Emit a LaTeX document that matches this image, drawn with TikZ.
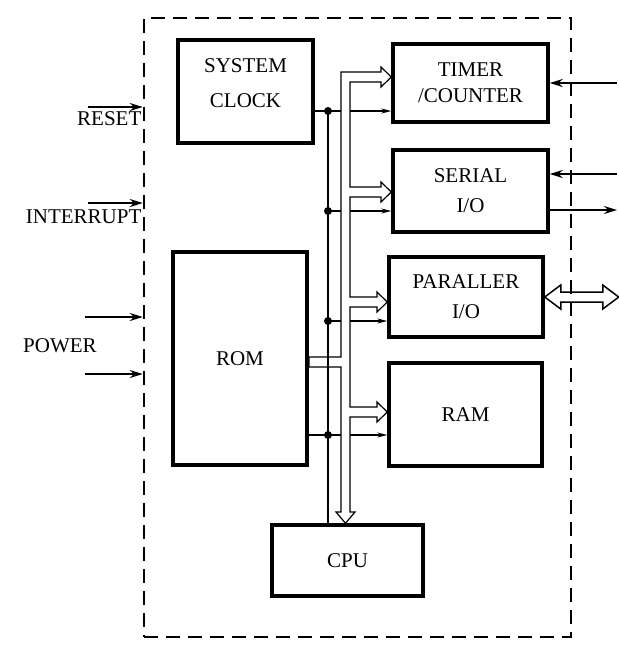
\documentclass[tikz,border=0pt]{standalone}
\usepackage{fontspec}
\setmainfont{Liberation Serif}
\usetikzlibrary{arrows.meta}
\begin{document}
\begin{tikzpicture}[x=1pt, y=-1pt, line width=1.2pt,
    blk/.style={draw, line width=3.5pt, inner sep=0pt, align=center, font=\fontsize{21}{30}\selectfont},
    sig/.style={line width=1.1pt, -{Stealth[length=10pt,width=5pt]}},
    ext/.style={line width=2pt, -{Stealth[length=13pt,width=8pt]}},
    lbl/.style={font=\fontsize{21}{24}\selectfont, inner sep=0pt}]

    \useasboundingbox (0,0) rectangle (619,646);

    % chip outline
    \node[draw, line width=2.5pt, dash pattern=on 14pt off 8pt,
          minimum width=427pt, minimum height=619pt] (mcu) at (357.5,327.5) {};

    % blocks
    \node[blk, minimum width=135pt, minimum height=103pt,
          label={[lbl, align=center, font=\fontsize{21}{35}\selectfont, yshift=8pt]center:SYSTEM\\CLOCK}] (clk) at (245.5,91.5) {};
    \node[blk, minimum width=155pt, minimum height=78pt, font=\fontsize{21}{26}\selectfont] (tmr) at (470.5,83) {TIMER\\/COUNTER};
    \node[blk, minimum width=155pt, minimum height=82pt] (ser) at (470.5,191) {SERIAL\\I/O};
    \node[blk, minimum width=154pt, minimum height=80pt] (par) at (466,297) {PARALLER\\I/O};
    \node[blk, minimum width=153pt, minimum height=103pt] (ram) at (465.5,414.5) {RAM};
    \node[blk, minimum width=134pt, minimum height=213pt] (rom) at (240,358.5) {ROM};
    \node[blk, minimum width=151pt, minimum height=71pt] (cpu) at (347.5,560.5) {CPU};

    % control taps
    \coordinate (d1) at (328,111);
    \coordinate (d2) at (328,211);
    \coordinate (d3) at (328,321);
    \coordinate (d4) at (328,435);

    \draw (clk.east |- d1) -- (d1);
    \draw[sig] (d1) -- (d1 -| tmr.west);
    \draw[sig] (d2) -- (d2 -| ser.west);
    \draw[sig] (d3) -- (d3 -| par.west);
    \draw (d4 -| rom.east) -- (d4);
    \draw[sig] (d4) -- (d4 -| ram.west);

    % bus
    \draw[fill=white] (309,357) -- (341,357) -- (341,72) -- (381,72) -- (381,67)
      -- (tmr.west |- 0,77) -- (381,87) -- (381,82) -- (350,82)
      -- (350,187) -- (381,187) -- (381,182) -- (ser.west |- 0,192) -- (381,202) -- (381,197) -- (350,197)
      -- (350,297) -- (377,297) -- (377,292) -- (par.west |- 0,302) -- (377,312) -- (377,307) -- (350,307)
      -- (350,407) -- (377,407) -- (377,402) -- (ram.west |- 0,412) -- (377,422) -- (377,417) -- (350,417)
      -- (350,512) -- (355,512) -- (cpu.north -| 345.5,0) -- (336,512) -- (341,512)
      -- (341,367) -- (309,367) -- cycle;

    \draw (d1) -- (d1 |- cpu.north);
    \foreach \d in {d1,d2,d3,d4}
      \fill (\d) circle (4pt);

    % outside lines
    \coordinate (rstin) at (88,107);
    \coordinate (intin) at (88,203);
    \coordinate (pw1) at (85,317);
    \coordinate (pw2) at (85,374);
    \draw[ext] (rstin) -- (rstin -| mcu.west);
    \draw[ext] (intin) -- (intin -| mcu.west);
    \draw[ext] (pw1) -- (pw1 -| mcu.west);
    \draw[ext] (pw2) -- (pw2 -| mcu.west);
    \node[lbl, anchor=east] (rst) at (142,119) {RESET};
    \node[lbl, anchor=east] (int) at (142,217) {INTERRUPT};
    \node[lbl] (pwr) at (60,346) {POWER};

    \coordinate (tin) at (617,83);
    \coordinate (rxd) at (617,174);
    \coordinate (txd) at (617,210);
    \draw[ext] (tin) -- (tmr.east);
    \draw[ext] (rxd) -- (rxd -| ser.east);
    \draw[ext] (txd -| ser.east) -- (txd);
    \draw[line width=1.5pt] (par.east) -- ++(16,-12) -- ++(0,7) -- ++(42,0) -- ++(0,-7) -- ++(16,12)
      -- ++(-16,12) -- ++(0,-7) -- ++(-42,0) -- ++(0,7) -- cycle;

\end{tikzpicture}
\end{document}
